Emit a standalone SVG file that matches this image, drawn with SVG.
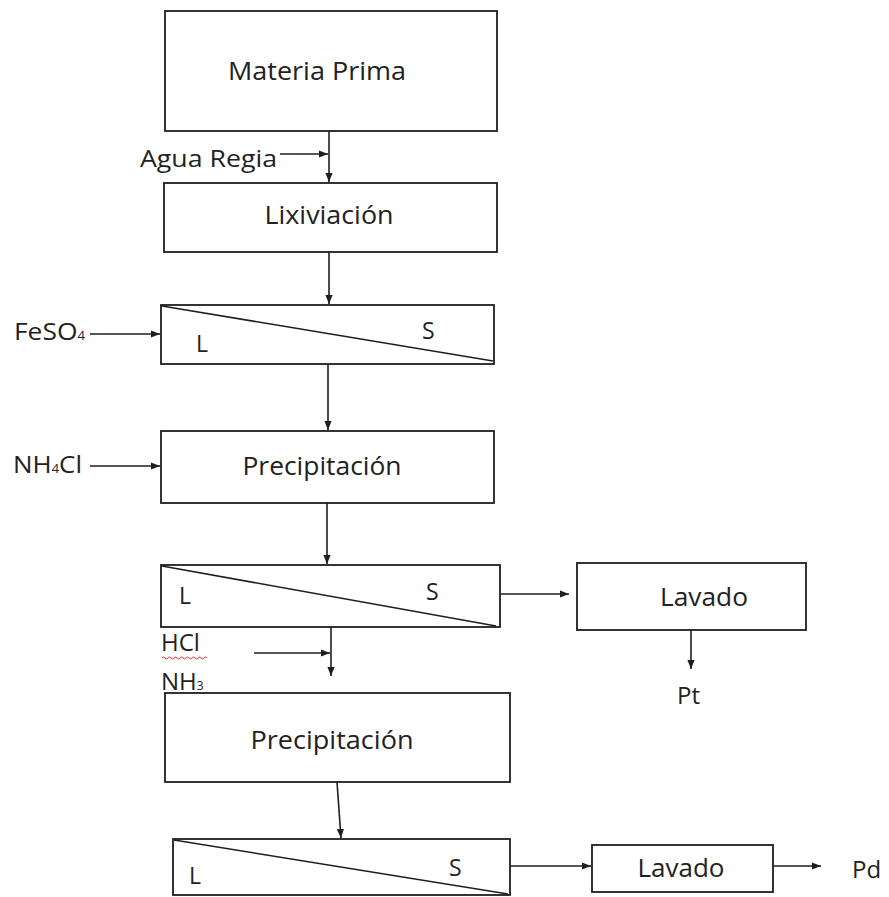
<svg xmlns="http://www.w3.org/2000/svg" width="889" height="897" viewBox="0 0 889 897">
<defs>
<marker id="ah" viewBox="0 0 10 10" refX="10" refY="5" markerWidth="9" markerHeight="9" markerUnits="userSpaceOnUse" orient="auto">
<path d="M0,1 L10,5 L0,9 z" fill="#1e1e1e"/>
</marker>
<style>
.box{fill:#fff;stroke:#1e1e1e;stroke-width:1.8}
.div{stroke:#1e1e1e;stroke-width:1.5;fill:none}
.con{stroke:#1e1e1e;stroke-width:1.6;fill:none;marker-end:url(#ah)}
text{font-family:"Open Sans",Lato,"Liberation Sans",sans-serif;fill:#222}
.lbl{font-size:25px;text-anchor:middle}
.side{font-size:24px}
.ls{font-size:23px}
.sub{font-size:12px}
</style>
</defs>
<rect width="889" height="897" fill="#fff"/>
<g id="materia-prima">
<rect class="box" x="165" y="11" width="332" height="120"/>
<text class="lbl" x="317" y="80" textLength="178" lengthAdjust="spacingAndGlyphs">Materia Prima</text>
</g>
<g id="lixiviacion">
<rect class="box" x="164" y="183" width="333" height="69"/>
<text class="lbl" x="329" y="224" textLength="129" lengthAdjust="spacingAndGlyphs">Lixiviación</text>
</g>
<g id="sep1">
<rect class="box" x="161" y="305" width="333" height="59"/>
<line class="div" x1="162" y1="306" x2="493" y2="361"/>
<text class="ls" x="196" y="352">L</text>
<text class="ls" x="422" y="339">S</text>
</g>
<g id="precipitacion1">
<rect class="box" x="161" y="431" width="333" height="72"/>
<text class="lbl" x="322" y="475" textLength="159" lengthAdjust="spacingAndGlyphs">Precipitación</text>
</g>
<g id="sep2">
<rect class="box" x="161" y="565" width="339" height="62"/>
<line class="div" x1="162" y1="566" x2="496" y2="626"/>
<text class="ls" x="179" y="604">L</text>
<text class="ls" x="426" y="600">S</text>
</g>
<g id="lavado1">
<rect class="box" x="577" y="563" width="229" height="67"/>
<text class="lbl" x="704" y="606" textLength="88" lengthAdjust="spacingAndGlyphs">Lavado</text>
</g>
<g id="precipitacion2">
<rect class="box" x="165" y="693" width="345" height="89"/>
<text class="lbl" x="332" y="749" textLength="163" lengthAdjust="spacingAndGlyphs">Precipitación</text>
</g>
<g id="sep3">
<rect class="box" x="173" y="839" width="337" height="56"/>
<line class="div" x1="174" y1="840" x2="508" y2="894"/>
<text class="ls" x="189" y="884">L</text>
<text class="ls" x="449" y="876">S</text>
</g>
<g id="lavado2">
<rect class="box" x="592" y="845" width="181" height="47"/>
<text class="lbl" x="681" y="877" textLength="87" lengthAdjust="spacingAndGlyphs">Lavado</text>
</g>
<g id="labels">
<text class="side" x="140" y="167" textLength="137" lengthAdjust="spacingAndGlyphs">Agua Regia</text>
<text class="side" x="14" y="340" textLength="71" lengthAdjust="spacingAndGlyphs">FeSO<tspan class="sub">4</tspan></text>
<text class="side" x="13" y="473" textLength="69" lengthAdjust="spacingAndGlyphs">NH<tspan class="sub">4</tspan>Cl</text>
<text class="side" x="161" y="651">HCl</text>
<path d="M162,658 q1.5,-2 3,0 t3,0 t3,0 t3,0 t3,0 t3,0 t3,0 t3,0 t3,0 t3,0 t3,0 t3,0 t3,0 t3,0 t3,0" stroke="#d33" stroke-width="1" fill="none"/>
<text class="side" x="161" y="690">NH<tspan class="sub">3</tspan></text>
<text class="side" x="677" y="704">Pt</text>
<text class="side" x="852" y="878">Pd</text>
</g>
<g id="connectors">
<line class="con" x1="329" y1="131" x2="329" y2="182"/>
<line class="con" x1="280" y1="154" x2="328" y2="154"/>
<line class="con" x1="329" y1="252" x2="329" y2="304"/>
<line class="con" x1="90" y1="334" x2="160" y2="334"/>
<line class="con" x1="328" y1="364" x2="328" y2="430"/>
<line class="con" x1="90" y1="466" x2="160" y2="466"/>
<line class="con" x1="327" y1="503" x2="327" y2="564"/>
<line class="con" x1="500" y1="594" x2="569" y2="594"/>
<line class="con" x1="691" y1="630" x2="691" y2="669"/>
<line class="con" x1="331" y1="627" x2="331" y2="676"/>
<line class="con" x1="254" y1="653" x2="330" y2="653"/>
<line class="con" x1="337" y1="782" x2="341" y2="838"/>
<line class="con" x1="510" y1="866" x2="591" y2="866"/>
<line class="con" x1="773" y1="866" x2="821" y2="866"/>
</g>
</svg>
